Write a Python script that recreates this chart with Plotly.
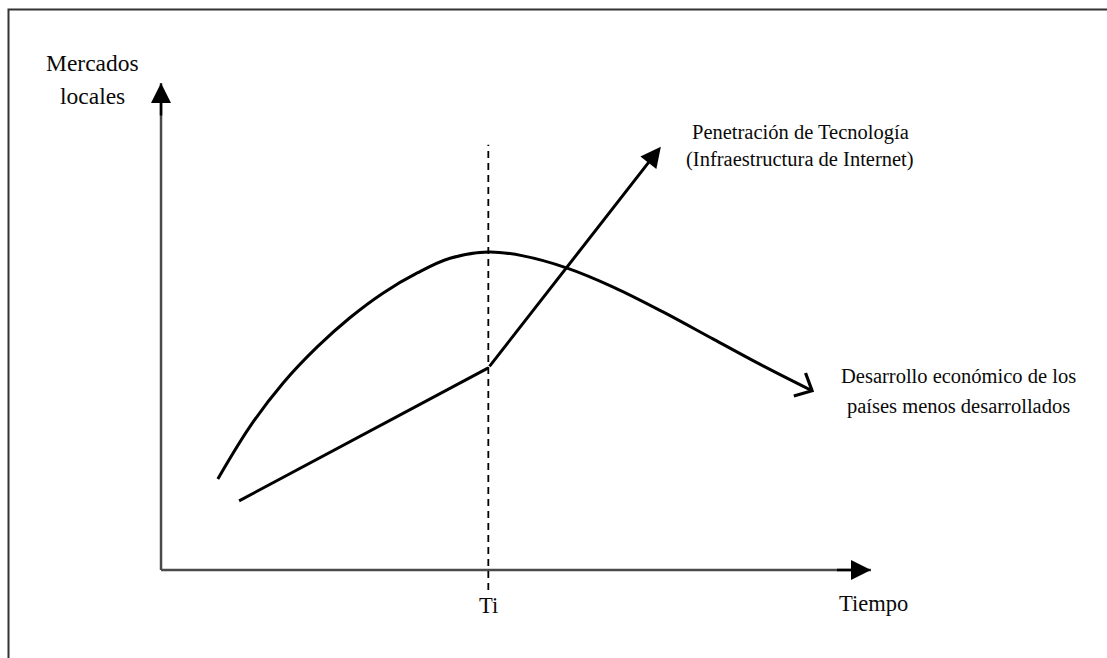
import math
import plotly.graph_objects as go

# ---- data (abstract units: x = time, y = local markets) ----
axis_x_max = 10.0
axis_y_max = 10.0
ti_value = 4.61

# Economic development of less developed countries (curve)
curve_x = [0.80, 1.25, 1.72, 2.20, 2.66, 3.13, 3.61, 4.07, 4.61, 5.10, 5.72, 6.37, 7.07, 7.78, 8.48, 9.17]
curve_y = [1.87, 2.94, 3.84, 4.58, 5.18, 5.69, 6.10, 6.40, 6.53, 6.45, 6.20, 5.81, 5.30, 4.74, 4.19, 3.68]

# Technology penetration (broken line)
tech_x = [1.10, 4.61, 7.04]
tech_y = [1.42, 4.15, 8.69]

# vertical dashed line at Ti
dash_y = [-0.41, 8.73]

# texts
y_label_lines = ["Mercados", "locales"]
x_label = "Tiempo"
ti_label = "Ti"
tech_label_lines = ["Penetración de Tecnología", "(Infraestructura de Internet)"]
econ_label_lines = ["Desarrollo económico de los", "países menos desarrollados"]

W, H = 1107, 658
x_range = [-2.268, 13.324]
y_range = [-1.807, 11.704]

FONT = "Liberation Serif"
TXT = "#0a0a0a"

# pixel scale of the axes (for drawing the open chevron head)
px_per_x = W / (x_range[1] - x_range[0])
px_per_y = H / (y_range[1] - y_range[0])

fig = go.Figure()

# axes lines
fig.add_trace(go.Scatter(x=[0, axis_x_max], y=[0, 0], mode="lines",
                         line=dict(color="#4a4a4a", width=2.5), hoverinfo="skip"))
fig.add_trace(go.Scatter(x=[0, 0], y=[0, axis_y_max], mode="lines",
                         line=dict(color="#4a4a4a", width=2.5), hoverinfo="skip"))

# dashed Ti line
fig.add_trace(go.Scatter(x=[ti_value, ti_value], y=dash_y, mode="lines",
                         line=dict(color="black", width=1.8, dash="7px,5px"), hoverinfo="skip"))

# curve
fig.add_trace(go.Scatter(x=curve_x, y=curve_y, mode="lines",
                         line=dict(color="black", width=3, shape="spline", smoothing=1.0),
                         hoverinfo="skip"))

# open chevron head at the end of the curve
dxp = (curve_x[-1] - curve_x[-2]) * px_per_x
dyp = (curve_y[-1] - curve_y[-2]) * px_per_y
ang = math.atan2(dyp, dxp)
arm_len, half = 19.0, math.radians(43)
arms = []
for s in (1, -1):
    a = ang + math.pi + s * half
    arms.append((curve_x[-1] + arm_len * math.cos(a) / px_per_x,
                 curve_y[-1] + arm_len * math.sin(a) / px_per_y))
fig.add_trace(go.Scatter(x=[arms[0][0], curve_x[-1], arms[1][0]],
                         y=[arms[0][1], curve_y[-1], arms[1][1]], mode="lines",
                         line=dict(color="black", width=3.2), hoverinfo="skip"))

# technology line (last segment drawn by the arrow annotation)
fig.add_trace(go.Scatter(x=tech_x[:2], y=tech_y[:2], mode="lines",
                         line=dict(color="black", width=3), hoverinfo="skip"))

annotations = []

# axis arrowheads
annotations.append(dict(x=axis_x_max, y=0, ax=axis_x_max - 0.5, ay=0, xref="x", yref="y",
                        axref="x", ayref="y", showarrow=True, arrowhead=2, arrowsize=1.6,
                        arrowwidth=2.5, arrowcolor="black", text=""))
annotations.append(dict(x=0, y=axis_y_max, ax=0, ay=axis_y_max - 0.7, xref="x", yref="y",
                        axref="x", ayref="y", showarrow=True, arrowhead=2, arrowsize=1.6,
                        arrowwidth=2.5, arrowcolor="black", text=""))

# technology arrow (last segment)
annotations.append(dict(x=tech_x[2], y=tech_y[2], ax=tech_x[1], ay=tech_y[1], xref="x", yref="y",
                        axref="x", ayref="y", showarrow=True, arrowhead=2, arrowsize=1.35,
                        arrowwidth=3, arrowcolor="black", text=""))

# text labels
def label(text, x, y, size):
    return dict(x=x, y=y, xref="x", yref="y", text=text, showarrow=False,
                xanchor="center", yanchor="middle", align="center",
                font=dict(family=FONT, size=size, color=TXT))

annotations.append(label(y_label_lines[0], -0.96, 10.42, 23.5))
annotations.append(label(y_label_lines[1], -0.96, 9.74, 23.5))
annotations.append(label(x_label, 10.03, -0.68, 22.5))
annotations.append(label(ti_label, ti_value, -0.72, 22.5))
annotations.append(label(tech_label_lines[0], 9.0, 8.99, 20.5))
annotations.append(label(tech_label_lines[1], 9.0, 8.43, 20.5))
annotations.append(label(econ_label_lines[0], 11.23, 3.98, 20.5))
annotations.append(label(econ_label_lines[1], 11.23, 3.36, 20.5))

fig.update_layout(
    width=W, height=H,
    margin=dict(l=0, r=0, t=0, b=0),
    paper_bgcolor="white", plot_bgcolor="white",
    showlegend=False,
    xaxis=dict(range=x_range, visible=False, fixedrange=True),
    yaxis=dict(range=y_range, visible=False, fixedrange=True),
    annotations=annotations,
    shapes=[dict(type="rect", xref="paper", yref="paper",
                 x0=8.5 / W, x1=1.05, y0=-0.05, y1=1 - 9.5 / H,
                 line=dict(color="#333333", width=2), layer="above")],
)

fig.write_html("out.html", config={"displayModeBar": False},
               post_script="document.body.style.margin='0';document.body.style.overflow='hidden';")
